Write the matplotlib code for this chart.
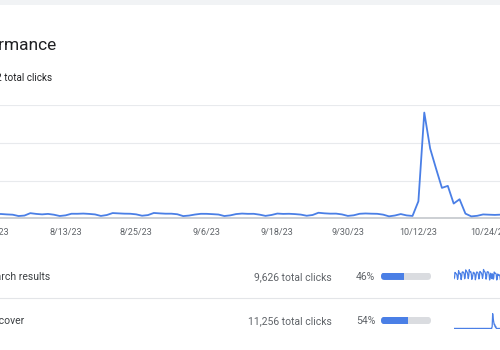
import matplotlib
matplotlib.use("Agg")
import matplotlib.pyplot as plt
import matplotlib.patches as mpatches
from matplotlib.lines import Line2D
import pandas as pd

plt.rcParams['font.family'] = ['Roboto', 'DejaVu Sans']

# daily clicks, 7/29/23 .. 10/28/23 (weeks start on Saturday)
dates = pd.date_range('2023-07-29', '2023-10-28', freq='D')
search_clicks = [
    58, 66, 120, 112, 108, 104, 90,
    50, 70, 138, 116, 106, 112, 94,
    48, 74, 122, 126, 124, 118, 100,
    56, 78, 146, 132, 128, 122, 98,
    58, 84, 148, 130, 126, 128, 104,
    50, 64, 92, 122, 118, 114, 98,
    46, 72, 116, 126, 120, 116, 96,
    54, 80, 130, 122, 118, 114, 94,
    60, 86, 150, 136, 128, 124, 102,
    52, 74, 124, 128, 126, 120, 98,
    44, 68, 112, 72, 58, 106, 104,
    52, 62, 124, 118, 112, 110, 100,
    44, 58, 104, 92, 90, 96, 88,
    50,
]
discover_clicks = [
    12, 18, 9, 14, 20, 11, 16,
    13, 8, 17, 15, 10, 19, 12,
    16, 11, 14, 9, 18, 13, 15,
    10, 17, 12, 16, 11, 14, 19,
    15, 9, 13, 18, 12, 10, 16,
    11, 14, 19, 12, 15, 9, 13,
    17, 12, 10, 16, 13, 18, 11,
    14, 16, 12, 9, 17, 11, 15,
    12, 10, 18, 14, 11, 16, 13,
    15, 13, 11, 17, 12, 14, 10,
    9, 12, 14, 11, 8, 430, 3270,
    2170, 1520, 840, 910, 350, 490, 40,
    8, 12, 10, 14, 9, 11, 13,
    10,
]
total_clicks = [s + d for s, d in zip(search_clicks, discover_clicks)]

sources = ['Search results', 'Discover']
source_totals = [9626, 11256]
source_share = [46, 54]
source_series = [search_clicks, discover_clicks]

tick_dates = pd.date_range('2023-08-01', periods=8, freq='12D')
y_grid = [0, 1200, 2400, 3600]

W, H = 500, 350
BLUE = '#4a7fe6'


def fx(x):
    return x / W


def fy(y):
    return 1 - y / H


fig = plt.figure(figsize=(5, 3.5), dpi=100, facecolor='white')

# light band at the very top
fig.add_artist(mpatches.Rectangle((0, fy(5)), 1, 5 / H, transform=fig.transFigure,
                                  facecolor='#f1f3f5', edgecolor='none'))

fig.text(fx(56.5), fy(50), 'Performance', ha='right', va='baseline',
         fontsize=12.5, color='#202124')
fig.text(fx(52.5), fy(80.5), f'{sum(source_totals):,} total clicks', ha='right',
         va='baseline', fontsize=7.1, color='#202124')

# main chart (wider than the figure, cut at both sides like the screenshot)
ax = fig.add_axes([fx(-60), fy(218), 600 / W, 112.5 / H])
ref = pd.Timestamp('2023-10-12')
ppd = 5.88  # pixels per day
ax.set_xlim(ref - pd.Timedelta(days=(418.4 + 60) / ppd),
            ref + pd.Timedelta(days=(540 - 418.4) / ppd))
ax.set_ylim(0, y_grid[-1])
ax.plot(dates, total_clicks, color=BLUE, lw=1.3, zorder=3)

ax.set_yticks(y_grid)
ax.yaxis.grid(True, color='#e8eaed', lw=0.8)
ax.set_axisbelow(True)
ax.tick_params(axis='y', length=0, labelleft=False)
ax.set_xticks(tick_dates)
ax.set_xticklabels([f'{d.month}/{d.day}/{d:%y}' for d in tick_dates])
ax.tick_params(axis='x', length=0, pad=7, labelsize=6.5, labelcolor='#5f6368')
for s in ['top', 'left', 'right']:
    ax.spines[s].set_visible(False)
ax.spines['bottom'].set_color('#c4c7cc')
ax.spines['bottom'].set_linewidth(1.2)

# source rows
row_center = [276.3, 320.5]
fig.add_artist(Line2D([0, 1], [fy(298), fy(298)], transform=fig.transFigure,
                      color='#e3e5e8', lw=0.8))

for i, name in enumerate(sources):
    yc = row_center[i]
    fig.text(fx(-15.5), fy(yc + 4), name, ha='left', va='baseline',
             fontsize=7.5, color='#3c4043')
    fig.text(fx(332), fy(yc + 4), f'{source_totals[i]:,} total clicks', ha='right',
             va='baseline', fontsize=7.5, color='#5f6368')
    fig.text(fx(375.5), fy(yc + 4), f'{source_share[i]}%', ha='right',
             va='baseline', fontsize=7.5, color='#5f6368')

    # share bar with rounded ends
    bax = fig.add_axes([fx(381), fy(yc + 3.65), 50 / W, 7.3 / H])
    bax.set_xlim(0, 100)
    bax.set_ylim(-0.5, 0.5)
    bax.axis('off')
    bg = mpatches.FancyBboxPatch((0, -0.5), 100, 1,
                                 boxstyle='round,pad=0,rounding_size=7.3',
                                 mutation_aspect=1 / 14.6,
                                 facecolor='#dadce0', edgecolor='none')
    bax.add_patch(bg)
    bars = bax.barh(0, source_share[i], height=1, color=BLUE)
    for b in bars:
        b.set_clip_path(bg)

    # sparkline
    sax = fig.add_axes([fx(454), fy(yc + 8), 46.3 / W, 16 / H])
    sax.plot(dates, source_series[i], color=BLUE, lw=0.9)
    sax.set_xlim(dates[0], dates[-1])
    sax.set_ylim(0, max(source_series[i]) * 1.08)
    sax.axis('off')

fig.savefig('out.png', dpi=100, facecolor='white')
